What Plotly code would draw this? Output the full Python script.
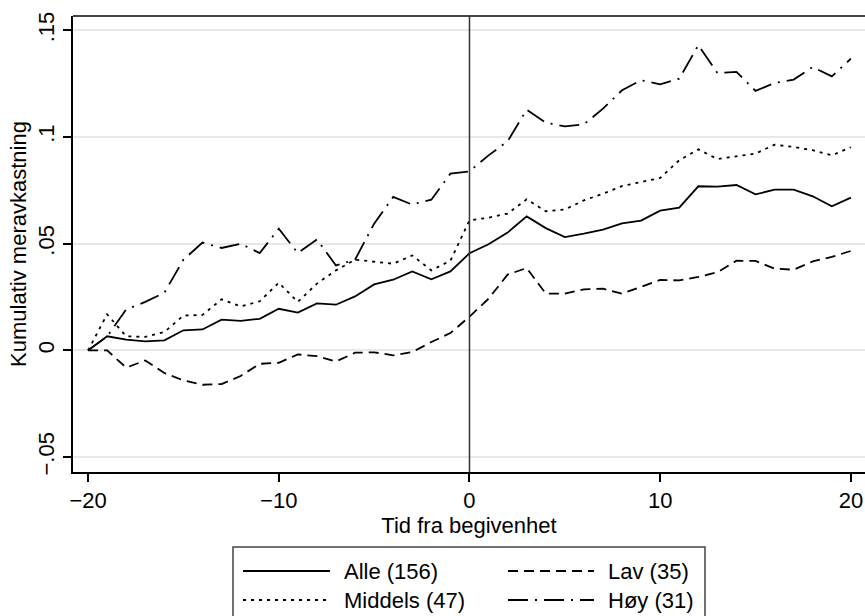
import plotly.graph_objects as go

# Event time (days relative to the announcement)
tid = list(range(-20, 21))

# Cumulative abnormal return per group
alle = [0.0, 0.0066, 0.005, 0.0042, 0.0047, 0.0094, 0.0098, 0.0144, 0.0138, 0.0148,
        0.0195, 0.0177, 0.022, 0.0214, 0.0253, 0.0309, 0.0331, 0.037, 0.0333, 0.037,
        0.0455, 0.0497, 0.0552, 0.0628, 0.0573, 0.0531, 0.0547, 0.0566, 0.0595, 0.0608,
        0.0655, 0.0669, 0.0769, 0.0767, 0.0775, 0.0731, 0.0753, 0.0753, 0.0722, 0.0675,
        0.0716]
lav = [0.0, 0.0, -0.0081, -0.0047, -0.0106, -0.0141, -0.0161, -0.0158, -0.012, -0.0063,
       -0.0058, -0.0019, -0.0027, -0.0052, -0.0011, -0.0009, -0.0023, -0.0008, 0.0039, 0.0081,
       0.0158, 0.0242, 0.0355, 0.0386, 0.0266, 0.0266, 0.0286, 0.0289, 0.0266, 0.0297,
       0.033, 0.0328, 0.0344, 0.0366, 0.042, 0.0419, 0.0383, 0.0378, 0.0417, 0.0438,
       0.0466]
middels = [0.0, 0.0169, 0.0066, 0.0063, 0.0086, 0.0163, 0.0166, 0.0239, 0.0206, 0.023,
           0.0317, 0.0227, 0.0313, 0.0375, 0.0425, 0.0414, 0.0406, 0.0445, 0.0375, 0.042,
           0.0609, 0.0622, 0.0641, 0.0708, 0.0652, 0.066, 0.0703, 0.0734, 0.077, 0.0789,
           0.0808, 0.0891, 0.0942, 0.0897, 0.0909, 0.0922, 0.0964, 0.0953, 0.0938, 0.0914,
           0.0952]
hoy = [0.0, 0.0065, 0.0192, 0.0227, 0.027, 0.0425, 0.0505, 0.048, 0.05, 0.0456,
       0.057, 0.0456, 0.052, 0.0398, 0.0425, 0.0594, 0.0719, 0.0683, 0.0706, 0.0828,
       0.0839, 0.0914, 0.098, 0.1128, 0.1067, 0.105, 0.1059, 0.1133, 0.1219, 0.1266,
       0.1247, 0.1273, 0.143, 0.13, 0.1305, 0.1216, 0.1253, 0.1269, 0.1328, 0.1284,
       0.1367]

serie_navn = ["Alle (156)", "Middels (47)", "Lav (35)", "Høy (31)"]

x_ticks = [-20, -10, 0, 10, 20]
x_ticktext = ["−20", "−10", "0", "10", "20"]
y_ticks = [-0.05, 0, 0.05, 0.1, 0.15]
y_ticktext = ["−.05", "0", ".05", ".1", ".15"]

FONT = "Liberation Sans, Arial, Helvetica, sans-serif"
FS = 22
W, H = 865, 616
ML, MR, MT, MB = 73, 0, 16, 144

styles = {
    "Alle (156)": "solid",
    "Middels (47)": "3px,5px",
    "Lav (35)": "10px,6px",
    "Høy (31)": "20px,7px,2px,7px",
}

fig = go.Figure()
for navn, verdier in zip(serie_navn, [alle, middels, lav, hoy]):
    fig.add_trace(go.Scatter(
        x=tid, y=verdier, mode="lines", name=navn, showlegend=False,
        line=dict(color="black", width=1.8, dash=styles[navn]),
    ))

# pixel -> paper helpers for the hand-drawn legend
pw, ph = W - ML - MR, H - MT - MB
def px_x(p):
    return (p - ML) / pw
def px_y(p):
    return (H - MB - p) / ph

shapes = [
    # top frame line
    dict(type="line", xref="paper", yref="paper", x0=0, x1=1, y0=1, y1=1,
         line=dict(color="#444", width=2)),
    # event day marker
    dict(type="line", xref="x", yref="paper", x0=0, x1=0, y0=0, y1=1,
         line=dict(color="#333", width=1.5)),
    # legend frame
    dict(type="rect", xref="paper", yref="paper",
         x0=px_x(233), x1=px_x(705), y0=px_y(630), y1=px_y(547),
         line=dict(color="#444", width=1.5), fillcolor="white", layer="above"),
]

annotations = []
legend_pos = {
    "Alle (156)": (243, 330, 571),
    "Lav (35)": (508, 594, 571),
    "Middels (47)": (243, 330, 600),
    "Høy (31)": (508, 594, 600),
}
for navn in serie_navn:
    x0, x1, yy = legend_pos[navn]
    shapes.append(dict(type="line", xref="paper", yref="paper",
                       x0=px_x(x0), x1=px_x(x1), y0=px_y(yy), y1=px_y(yy),
                       line=dict(color="black", width=1.8, dash=styles[navn]),
                       layer="above"))
    annotations.append(dict(xref="paper", yref="paper", x=px_x(x1 + 12), y=px_y(yy),
                            text=navn, showarrow=False, xanchor="left", yanchor="middle",
                            font=dict(family=FONT, size=FS, color="black")))

fig.update_layout(
    width=W, height=H,
    margin=dict(l=ML, r=MR, t=MT, b=MB, pad=0),
    paper_bgcolor="white", plot_bgcolor="white",
    font=dict(family=FONT, size=FS, color="black"),
    shapes=shapes, annotations=annotations,
    showlegend=False,
)
fig.update_xaxes(
    range=[-20.79, 20.74], tickvals=x_ticks, ticktext=x_ticktext,
    ticks="outside", ticklen=8, tickwidth=1.5, tickcolor="black",
    showline=True, linecolor="black", linewidth=1.5, mirror=False,
    showgrid=False, zeroline=False,
    tickfont=dict(family=FONT, size=FS, color="black"),
    title=dict(text="Tid fra begivenhet", font=dict(family=FONT, size=FS, color="black"),
               standoff=4),
)
fig.update_yaxes(
    range=[-0.057, 0.1567], tickvals=y_ticks, ticktext=y_ticktext, tickangle=-90,
    ticks="outside", ticklen=8, tickwidth=1.5, tickcolor="black",
    showline=True, linecolor="black", linewidth=1.5,
    showgrid=True, gridcolor="#e8e8e8", gridwidth=1.5, zeroline=False,
    tickfont=dict(family=FONT, size=FS, color="black"),
    title=dict(text="Kumulativ meravkastning", font=dict(family=FONT, size=FS, color="black"),
               standoff=2),
)

fig.write_html("out.html")
